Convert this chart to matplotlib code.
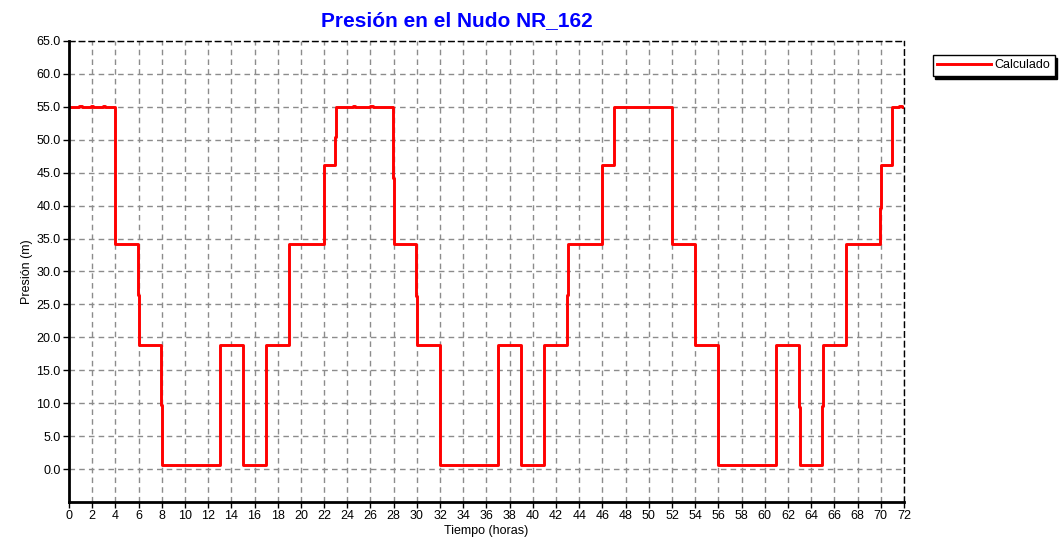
import matplotlib.pyplot as plt

plt.rcParams['font.family'] = ['Liberation Sans', 'DejaVu Sans']

# simulated pressure at node NR_162 (step series, value holds until next time)
tiempo = [0, 0.9, 1.1, 1.9, 2.1, 2.9, 3.1, 4,
          5.95, 6.05, 7.95, 8.05, 13, 13.05, 15, 17, 19, 22, 22.95, 23.05,
          24.5, 24.7, 26.0, 26.2, 27.95, 28.05, 29.95, 30.05, 32, 37, 39, 41,
          42.95, 43.05, 46, 47, 52, 54, 56, 61, 62.95, 63.05, 64.95, 65.05,
          67, 69.95, 70.05, 71, 71.6, 71.8, 72]
presion = [55.0, 55.2, 55.0, 55.2, 55.0, 55.2, 55.0, 34.2,
           26.4, 18.9, 9.7, 0.6, 9.6, 18.9, 0.6, 18.9, 34.2, 46.1, 50.4, 55.0,
           55.2, 55.0, 55.2, 55.0, 44.2, 34.2, 26.3, 18.9, 0.6, 18.9, 0.6, 18.9,
           26.4, 34.2, 46.1, 55.0, 34.2, 18.9, 0.6, 18.9, 9.4, 0.6, 9.5, 18.9,
           34.2, 39.6, 46.1, 55.0, 55.2, 55.0, 55.0]

x_ticks = list(range(0, 73, 2))
y_ticks = [v * 5 for v in range(14)]

fig = plt.figure(figsize=(10.61, 5.5), dpi=100)
ax = fig.add_axes([0.065, 0.0873, 0.787, 0.8382])

ax.step(tiempo, presion, where='post', color='#ff0000', lw=2.1, label='Calculado')

ax.set_xlim(0, 72)
ax.set_ylim(-5, 65)
ax.set_xticks(x_ticks)
ax.set_xticklabels([str(t) for t in x_ticks], fontsize=9)
ax.set_yticks(y_ticks)
ax.set_yticklabels([f'{v:.1f}' for v in y_ticks], fontsize=9)
ax.tick_params(length=4, width=1, color='black', pad=2)

ax.grid(True, color='#8c8c8c', linestyle=(0, (4, 3)), linewidth=1)

for side in ['left', 'bottom']:
    ax.spines[side].set_linewidth(2)
    ax.spines[side].set_color('black')
for side in ['top', 'right']:
    ax.spines[side].set_linestyle((0, (4, 3)))
    ax.spines[side].set_linewidth(1)
    ax.spines[side].set_color('black')

fig.text(0.431, 0.963, 'Presión en el Nudo NR_162', color='#0000ff', fontsize=15,
         fontweight='bold', ha='center', va='center')
ax.set_xlabel('Tiempo (horas)', fontsize=9, labelpad=2)
ax.set_ylabel('Presión (m)', fontsize=9, labelpad=2)

leg = fig.legend(loc='upper left', bbox_to_anchor=(0.879, 0.9), fontsize=9,
                 frameon=True, fancybox=False, shadow={'color': 'black', 'alpha': 1},
                 handlelength=4.3, borderpad=0.35, handletextpad=0.3,
                 borderaxespad=0)
leg.get_frame().set_edgecolor('black')
leg.get_frame().set_linewidth(1)

fig.savefig('out.png', dpi=100)
